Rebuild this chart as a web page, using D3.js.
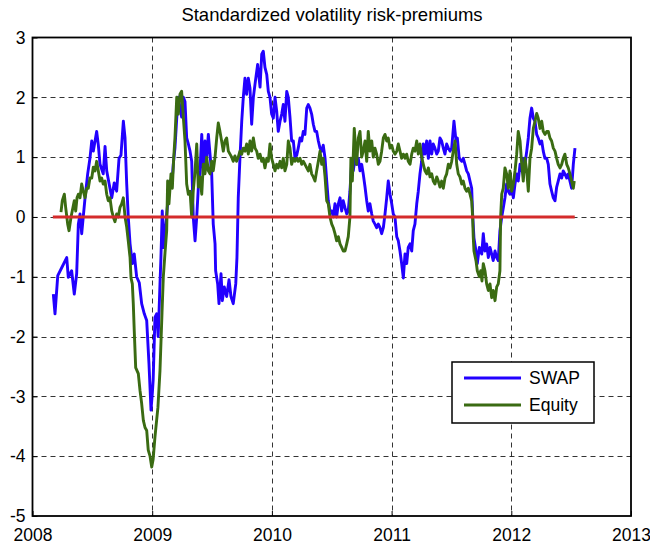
<!DOCTYPE html>
<html>
<head>
<meta charset="utf-8">
<script src="https://cdn.jsdelivr.net/npm/d3@7"></script>
<style>
  body { margin: 0; background: #fff; }
  text { font-family: "Liberation Sans", Arial, Helvetica, sans-serif; }
</style>
</head>
<body>
<script>
// values: [year, standardized premium]
var swap = [
  [2008.174,-1.29],[2008.188,-1.62],[2008.211,-0.98],[2008.244,-0.85],[2008.286,-0.68],[2008.299,-1.01],[2008.327,-0.90],
  [2008.349,-1.29],[2008.369,-0.95],[2008.383,-0.12],[2008.397,0.05],[2008.411,-0.28],[2008.424,0.0],[2008.439,0.32],
  [2008.461,0.72],[2008.480,0.98],[2008.495,1.27],[2008.508,1.10],[2008.536,1.43],[2008.550,1.20],[2008.564,0.88],
  [2008.591,0.72],[2008.606,1.18],[2008.620,0.77],[2008.647,0.48],[2008.662,0.32],[2008.683,0.57],[2008.703,0.43],
  [2008.723,0.98],[2008.739,1.03],[2008.759,1.60],[2008.773,1.32],[2008.787,0.55],[2008.800,0.0],[2008.815,-0.45],
  [2008.834,-0.78],[2008.850,-0.62],[2008.870,-1.00],[2008.892,-1.10],[2008.912,-1.45],[2008.934,-1.62],[2008.954,-1.73],
  [2008.973,-2.45],[2008.990,-3.23],[2009.001,-2.95],[2009.008,-2.73],[2009.023,-1.68],[2009.037,-1.62],[2009.050,-2.0],
  [2009.065,-1.12],[2009.073,-0.68],[2009.084,0.10],[2009.096,-0.51],[2009.113,-0.12],[2009.129,0.22],[2009.149,0.60],
  [2009.163,0.50],[2009.176,0.88],[2009.190,1.15],[2009.205,1.65],[2009.218,2.0],[2009.232,1.83],[2009.246,1.67],
  [2009.260,2.0],[2009.274,1.93],[2009.288,1.32],[2009.302,1.22],[2009.316,1.10],[2009.330,0.93],[2009.343,0.0],
  [2009.358,-0.40],[2009.372,0.0],[2009.385,0.48],[2009.399,0.77],[2009.414,1.38],[2009.427,0.72],[2009.441,1.27],
  [2009.455,0.98],[2009.469,1.38],[2009.483,1.05],[2009.497,0.72],[2009.510,-0.12],[2009.525,-0.45],[2009.530,-0.90],
  [2009.547,-1.12],[2009.558,-1.45],[2009.575,-0.95],[2009.586,-1.40],[2009.602,-1.17],[2009.622,-1.33],[2009.642,-1.05],
  [2009.658,-1.33],[2009.677,-1.45],[2009.698,-1.12],[2009.708,-0.68],[2009.719,0.32],[2009.733,0.98],[2009.748,1.60],
  [2009.761,2.0],[2009.775,2.32],[2009.789,2.05],[2009.803,2.32],[2009.817,2.15],[2009.831,1.55],[2009.845,2.0],
  [2009.859,2.22],[2009.881,2.55],[2009.901,2.17],[2009.915,2.72],[2009.928,2.77],[2009.942,2.50],[2009.957,2.38],
  [2009.970,2.10],[2009.984,2.0],[2009.998,1.72],[2010.012,1.65],[2010.026,2.0],[2010.040,1.77],[2010.053,1.43],
  [2010.068,1.60],[2010.082,1.72],[2010.095,1.88],[2010.109,1.60],[2010.124,2.10],[2010.137,2.0],[2010.151,1.67],
  [2010.165,1.27],[2010.179,1.27],[2010.193,0.98],[2010.207,1.03],[2010.220,1.15],[2010.235,1.32],[2010.249,1.27],
  [2010.262,1.43],[2010.276,1.38],[2010.291,1.82],[2010.304,1.88],[2010.318,1.82],[2010.332,1.72],[2010.346,1.55],
  [2010.360,1.43],[2010.374,1.43],[2010.388,1.27],[2010.402,1.15],[2010.416,1.10],[2010.429,1.20],[2010.444,0.98],
  [2010.458,0.60],[2010.471,0.27],[2010.485,0.10],[2010.500,0.10],[2010.513,0.0],[2010.527,0.22],[2010.541,0.0],
  [2010.555,0.22],[2010.569,0.32],[2010.583,0.10],[2010.596,0.27],[2010.611,0.15],[2010.625,0.05],[2010.638,0.10],
  [2010.652,0.43],[2010.667,0.93],[2010.680,0.77],[2010.694,0.98],[2010.708,0.88],[2010.722,0.98],[2010.736,0.77],
  [2010.750,0.88],[2010.763,0.72],[2010.778,0.50],[2010.792,0.27],[2010.805,0.10],[2010.819,0.22],[2010.834,0.05],
  [2010.847,-0.07],[2010.861,-0.12],[2010.875,-0.18],[2010.889,-0.12],[2010.903,-0.18],[2010.917,-0.28],[2010.931,-0.18],
  [2010.945,0.05],[2010.959,0.32],[2010.972,0.60],[2010.987,0.38],[2011.001,0.22],[2011.014,0.05],[2011.028,0.0],
  [2011.043,-0.33],[2011.056,-0.40],[2011.070,-0.57],[2011.084,-0.78],[2011.098,-1.02],[2011.112,-0.62],[2011.126,-0.78],
  [2011.139,-0.51],[2011.154,-0.45],[2011.168,-0.57],[2011.181,-0.23],[2011.195,-0.12],[2011.210,0.22],[2011.223,0.43],
  [2011.237,0.72],[2011.251,0.93],[2011.265,1.22],[2011.279,1.05],[2011.293,1.27],[2011.307,0.98],[2011.321,1.27],
  [2011.335,1.05],[2011.348,1.22],[2011.362,1.15],[2011.377,1.05],[2011.390,1.10],[2011.404,1.32],[2011.418,1.27],
  [2011.432,1.15],[2011.446,1.05],[2011.460,1.22],[2011.474,1.15],[2011.488,1.10],[2011.502,1.15],[2011.521,1.60],
  [2011.538,1.27],[2011.549,1.32],[2011.565,0.98],[2011.586,0.93],[2011.599,0.98],[2011.613,0.88],[2011.627,0.77],
  [2011.641,0.72],[2011.655,0.60],[2011.669,0.48],[2011.677,0.05],[2011.688,-0.35],[2011.705,-0.57],[2011.716,-0.78],
  [2011.733,-0.51],[2011.753,-0.62],[2011.766,-0.28],[2011.780,-0.57],[2011.794,-0.45],[2011.808,-0.68],[2011.822,-0.51],
  [2011.836,-0.62],[2011.849,-0.73],[2011.864,-0.57],[2011.878,-0.68],[2011.891,-0.73],[2011.905,-0.23],[2011.920,0.0],
  [2011.933,0.15],[2011.947,0.32],[2011.961,0.55],[2011.975,0.43],[2011.989,0.38],[2012.003,0.50],[2012.017,0.32],
  [2012.031,0.55],[2012.045,0.72],[2012.058,0.60],[2012.073,0.88],[2012.087,0.77],[2012.100,0.98],[2012.114,0.88],
  [2012.129,1.10],[2012.142,1.32],[2012.156,1.65],[2012.170,1.82],[2012.184,1.65],[2012.198,1.60],[2012.212,1.38],
  [2012.225,1.32],[2012.240,1.22],[2012.254,1.27],[2012.267,1.10],[2012.281,0.98],[2012.296,0.98],[2012.309,0.88],
  [2012.323,0.55],[2012.337,0.43],[2012.351,0.32],[2012.365,0.27],[2012.379,0.50],[2012.392,0.60],[2012.407,0.72],
  [2012.421,0.65],[2012.434,0.77],[2012.448,0.72],[2012.463,0.65],[2012.476,0.72],[2012.490,0.60],[2012.504,0.48],
  [2012.518,0.88],[2012.532,1.15]
];

var equity = [
  [2008.238,0.08],[2008.249,0.27],[2008.266,0.38],[2008.277,0.16],[2008.294,-0.12],[2008.305,-0.23],[2008.322,0.0],
  [2008.332,0.10],[2008.349,0.27],[2008.361,0.10],[2008.372,0.32],[2008.383,0.38],[2008.397,0.32],[2008.411,0.55],
  [2008.424,0.43],[2008.439,0.32],[2008.453,0.48],[2008.466,0.48],[2008.480,0.65],[2008.495,0.65],[2008.508,0.83],
  [2008.522,0.77],[2008.536,0.93],[2008.550,0.77],[2008.564,0.60],[2008.578,0.65],[2008.591,0.55],[2008.606,0.60],
  [2008.620,0.38],[2008.633,0.27],[2008.647,0.32],[2008.662,0.10],[2008.675,0.0],[2008.689,-0.08],[2008.703,0.05],
  [2008.717,0.0],[2008.731,0.16],[2008.745,0.22],[2008.759,0.32],[2008.773,0.0],[2008.787,-0.17],[2008.800,-0.40],
  [2008.815,-0.68],[2008.823,-1.02],[2008.834,-1.12],[2008.842,-1.45],[2008.850,-1.90],[2008.862,-2.52],[2008.884,-2.62],
  [2008.898,-2.90],[2008.912,-3.12],[2008.926,-3.40],[2008.940,-3.52],[2008.954,-3.57],[2008.967,-3.90],[2008.982,-4.0],
  [2008.996,-4.18],[2009.008,-4.05],[2009.023,-3.68],[2009.048,-3.18],[2009.065,-2.57],[2009.082,-1.60],[2009.093,-1.0],
  [2009.107,-0.60],[2009.121,-0.23],[2009.129,0.60],[2009.140,0.22],[2009.157,0.72],[2009.168,0.48],[2009.180,1.0],
  [2009.190,1.32],[2009.205,2.0],[2009.218,1.72],[2009.232,2.05],[2009.246,2.10],[2009.260,1.67],[2009.274,1.27],
  [2009.288,0.55],[2009.302,0.38],[2009.316,0.43],[2009.330,0.0],[2009.343,0.43],[2009.358,0.77],[2009.372,1.22],
  [2009.385,0.50],[2009.399,0.67],[2009.414,0.38],[2009.427,0.88],[2009.441,0.72],[2009.455,1.0],[2009.469,0.77],
  [2009.483,0.72],[2009.497,0.93],[2009.510,0.77],[2009.525,1.0],[2009.539,1.32],[2009.552,1.57],[2009.566,1.43],
  [2009.580,1.27],[2009.594,1.10],[2009.608,1.27],[2009.622,1.32],[2009.636,1.10],[2009.650,1.05],[2009.664,1.0],
  [2009.677,0.93],[2009.691,1.02],[2009.705,0.93],[2009.719,1.0],[2009.733,1.10],[2009.748,1.05],[2009.761,1.15],
  [2009.775,1.10],[2009.789,1.22],[2009.803,1.05],[2009.817,1.27],[2009.831,1.10],[2009.845,1.32],[2009.859,1.15],
  [2009.873,1.10],[2009.886,0.98],[2009.901,1.05],[2009.915,0.93],[2009.928,0.98],[2009.942,0.82],[2009.957,0.98],
  [2009.970,0.93],[2009.984,1.22],[2009.998,0.98],[2010.012,0.88],[2010.026,0.77],[2010.040,0.88],[2010.053,0.82],
  [2010.068,0.93],[2010.082,0.82],[2010.095,0.98],[2010.109,0.77],[2010.124,0.88],[2010.137,1.27],[2010.151,1.15],
  [2010.165,0.88],[2010.179,0.98],[2010.193,0.93],[2010.207,0.98],[2010.220,0.93],[2010.235,0.98],[2010.249,0.88],
  [2010.262,0.93],[2010.276,0.88],[2010.291,0.82],[2010.304,0.77],[2010.318,0.88],[2010.332,0.72],[2010.346,0.67],
  [2010.360,0.60],[2010.374,0.77],[2010.388,0.93],[2010.402,1.10],[2010.416,0.88],[2010.429,0.98],[2010.444,0.67],
  [2010.458,0.27],[2010.471,0.22],[2010.485,0.0],[2010.500,-0.12],[2010.513,-0.18],[2010.527,-0.28],[2010.541,-0.40],
  [2010.555,-0.33],[2010.569,-0.45],[2010.583,-0.51],[2010.596,-0.57],[2010.611,-0.57],[2010.625,-0.45],[2010.638,-0.33],
  [2010.652,0.0],[2010.660,0.98],[2010.672,0.60],[2010.688,1.48],[2010.708,0.88],[2010.722,1.32],[2010.736,1.43],
  [2010.750,1.0],[2010.763,1.10],[2010.778,1.27],[2010.792,0.93],[2010.805,1.43],[2010.819,1.10],[2010.834,1.27],
  [2010.847,1.0],[2010.861,1.15],[2010.875,1.05],[2010.889,0.88],[2010.903,0.93],[2010.917,1.10],[2010.931,1.32],
  [2010.945,1.38],[2010.959,1.27],[2010.972,1.32],[2010.987,1.15],[2011.001,1.20],[2011.014,1.10],[2011.028,1.05],
  [2011.043,1.10],[2011.056,1.22],[2011.070,1.10],[2011.084,0.98],[2011.098,1.05],[2011.112,0.98],[2011.126,1.05],
  [2011.139,0.93],[2011.154,0.88],[2011.168,1.05],[2011.181,1.15],[2011.195,1.10],[2011.210,1.27],[2011.223,1.05],
  [2011.237,1.22],[2011.251,1.0],[2011.265,0.88],[2011.279,0.77],[2011.293,0.72],[2011.307,0.82],[2011.321,0.67],
  [2011.335,0.72],[2011.348,0.60],[2011.362,0.55],[2011.377,0.67],[2011.390,0.60],[2011.404,0.50],[2011.418,0.60],
  [2011.432,0.48],[2011.446,0.65],[2011.460,0.72],[2011.474,0.88],[2011.488,0.82],[2011.502,0.93],[2011.515,1.10],
  [2011.530,1.27],[2011.544,0.88],[2011.557,0.72],[2011.571,0.67],[2011.586,0.55],[2011.599,0.60],[2011.613,0.48],
  [2011.627,0.43],[2011.641,0.48],[2011.655,0.38],[2011.669,0.27],[2011.677,0.0],[2011.682,-0.33],[2011.688,-0.57],
  [2011.705,-0.73],[2011.716,-0.90],[2011.733,-1.0],[2011.744,-0.90],[2011.755,-1.07],[2011.766,-0.78],[2011.780,-0.90],
  [2011.794,-1.12],[2011.808,-1.23],[2011.822,-1.12],[2011.836,-1.35],[2011.849,-1.23],[2011.864,-1.40],[2011.878,-1.17],
  [2011.891,-1.12],[2011.905,-0.90],[2011.911,0.0],[2011.920,0.38],[2011.933,0.48],[2011.947,0.82],[2011.961,0.72],
  [2011.975,0.48],[2011.989,0.77],[2012.003,0.43],[2012.017,0.55],[2012.031,0.77],[2012.045,1.05],[2012.058,1.43],
  [2012.073,1.27],[2012.087,0.88],[2012.100,0.60],[2012.114,0.98],[2012.129,0.77],[2012.142,0.43],[2012.156,0.98],
  [2012.170,1.15],[2012.184,1.48],[2012.198,1.60],[2012.212,1.73],[2012.225,1.65],[2012.240,1.48],[2012.254,1.60],
  [2012.267,1.43],[2012.281,1.38],[2012.296,1.43],[2012.309,1.43],[2012.323,1.32],[2012.337,1.27],[2012.351,1.15],
  [2012.365,1.10],[2012.379,0.98],[2012.392,0.88],[2012.407,0.82],[2012.421,0.88],[2012.434,0.98],[2012.448,1.05],
  [2012.463,0.88],[2012.476,0.82],[2012.490,0.72],[2012.504,0.60],[2012.518,0.48],[2012.526,0.60]
];

var zeroLine = [[2008.17, 0], [2012.53, 0]];

var xTicks = [2008, 2009, 2010, 2011, 2012, 2013];
var yTicks = [-5, -4, -3, -2, -1, 0, 1, 2, 3];
var seriesNames = ["SWAP", "Equity"];
var seriesColors = ["#2200ff", "#3a6b12"];
var titleText = "Standardized volatility risk-premiums";

var width = 650, height = 547;
var plotL = 32.5, plotR = 631, plotT = 37.5, plotB = 516;

var svg = d3.select("body").append("svg")
    .attr("width", width)
    .attr("height", height);

var x = d3.scaleLinear().domain([2008, 2013]).range([plotL, plotR]);
var y = d3.scaleLinear().domain([-5, 3]).range([plotB, plotT]);

svg.append("rect")
    .attr("x", plotL).attr("y", plotT)
    .attr("width", plotR - plotL).attr("height", plotB - plotT)
    .attr("fill", "#fff");

//grid
var grid = svg.append("g").attr("stroke", "#000").attr("stroke-width", 0.8)
    .attr("stroke-dasharray", "5,4");
grid.selectAll(".gx").data(xTicks.slice(1, -1)).enter().append("line")
    .attr("x1", (d) => Math.round(x(d)) + 0.5).attr("x2", (d) => Math.round(x(d)) + 0.5)
    .attr("y1", plotT).attr("y2", plotB);
grid.selectAll(".gy").data(yTicks.slice(1, -1)).enter().append("line")
    .attr("y1", (d) => Math.round(y(d)) + 0.5).attr("y2", (d) => Math.round(y(d)) + 0.5)
    .attr("x1", plotL).attr("x2", plotR);

//lines
var line = d3.line().x((d) => x(d[0])).y((d) => y(d[1]));
[swap, equity].forEach(function (s, i) {
    svg.append("path")
        .datum(s)
        .attr("d", line)
        .attr("fill", "none")
        .attr("stroke", seriesColors[i])
        .attr("stroke-width", 2.9)
        .attr("stroke-linejoin", "round");
});
svg.append("path")
    .datum(zeroLine)
    .attr("d", line)
    .attr("fill", "none")
    .attr("stroke", "#d42b2b")
    .attr("stroke-width", 3);

//axes with inward ticks, plain hyphen for negatives
var fmt = (d) => String(d);
var xAxis = d3.axisBottom(x).tickValues(xTicks).tickFormat(fmt).tickSizeInner(-5).tickSizeOuter(0);
var yAxis = d3.axisLeft(y).tickValues(yTicks).tickFormat(fmt).tickSizeInner(-5).tickSizeOuter(0);

var gx = svg.append("g").attr("transform", "translate(0," + plotB + ")").call(xAxis);
var gy = svg.append("g").attr("transform", "translate(" + plotL + ",0)").call(yAxis);
[gx, gy].forEach(function (g) {
    g.select(".domain").remove();
    g.selectAll("text").attr("fill", "#000").style("font-size", "17.5px");
    g.selectAll("line").attr("stroke", "#000");
});
gx.selectAll("text").attr("dy", "0.71em").attr("y", 13);
gy.selectAll("text").attr("x", -7).attr("dy", "0.33em");

svg.append("rect")
    .attr("x", plotL).attr("y", plotT)
    .attr("width", plotR - plotL).attr("height", plotB - plotT)
    .attr("fill", "none").attr("stroke", "#000").attr("stroke-width", 1.8);

svg.append("text")
    .attr("x", 332).attr("y", 21)
    .attr("text-anchor", "middle")
    .style("font-size", "18.5px")
    .text(titleText);

//legend
var legend = svg.append("g").attr("transform", "translate(452,362)");
legend.append("rect")
    .attr("width", 142).attr("height", 61)
    .attr("fill", "#fff").attr("stroke", "#000").attr("stroke-width", 1.5);
seriesNames.forEach(function (name, i) {
    var yy = 16 + i * 27;
    legend.append("line")
        .attr("x1", 12).attr("x2", 69).attr("y1", yy).attr("y2", yy)
        .attr("stroke", seriesColors[i]).attr("stroke-width", 2.9);
    legend.append("text")
        .attr("x", 77).attr("y", yy).attr("dy", "0.36em")
        .style("font-size", "17.5px")
        .text(name);
});
</script>
</body>
</html>
